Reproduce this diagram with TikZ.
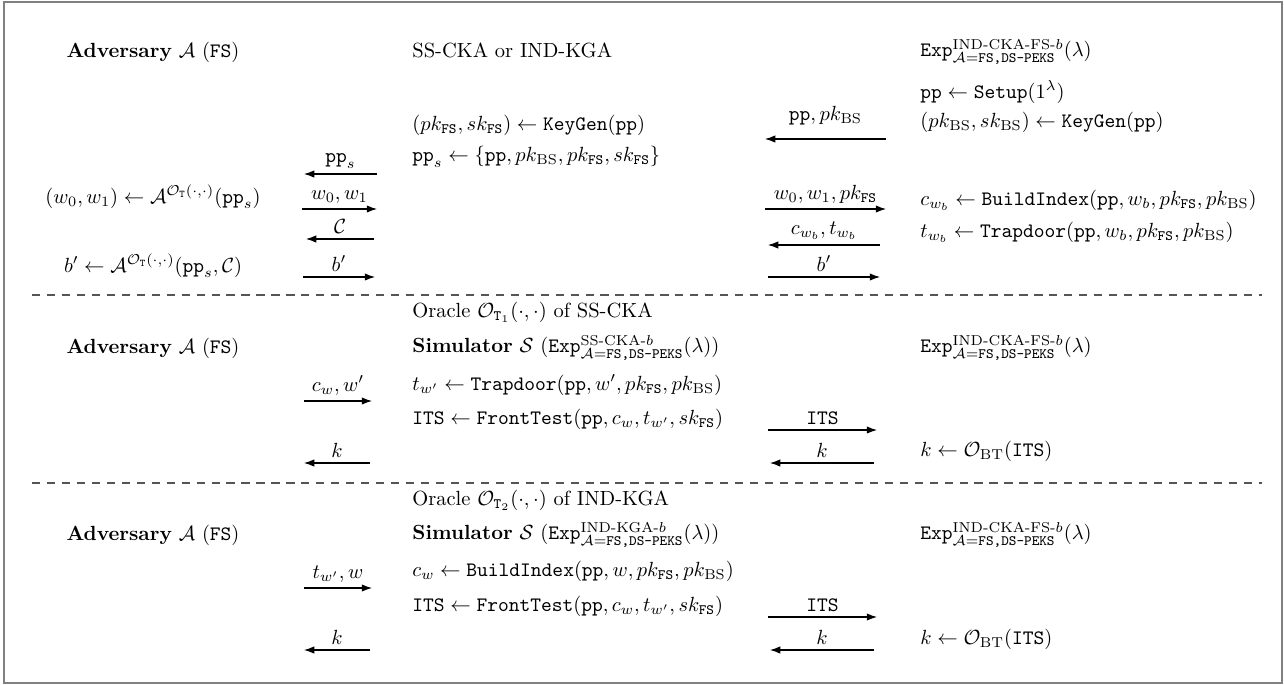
\documentclass[tikz,border=0pt]{standalone}
\usepackage{amsmath}
\usepackage{amssymb}
\usetikzlibrary{%
	arrows.meta,%
	positioning,%
}
\definecolor{cframe}{RGB}{128, 128, 128}
\definecolor{cdash}{RGB}{85, 85, 85}
\newcommand{\algname}[1]{\mathtt{#1}}
\newcommand{\keyname}[2]{#1k_{\mathtt{#2}}}
\newcommand{\srvkey}[1]{#1k_{\mathrm{BS}}}
\newcommand{\expname}[1]{\mathtt{Exp}^{\text{#1-}b}_{\mathcal{A}=\text{\texttt{FS,DS-PEKS}}}(\lambda)}
\newcommand{\advname}{\textbf{Adversary} $\mathcal{A}$ (\texttt{FS})}
\newcommand{\oraname}{\mathcal{O}_{\mathtt{T}}(\cdot,\cdot)}
\tikzset{
	>={Latex[length=5pt,width=3.6pt]},%
	stepnode/.style={%
			anchor=west,%
			inner sep=0pt},%
	partynode/.style={%
			inner sep=0pt},%
	msg/.style={%
			->,%
			line width=0.5pt},%
	msglabel/.style={%
			above,%
			inner sep=2.5pt},%
	sepline/.style={%
			draw=cdash,%
			line width=0.5pt,%
			dash pattern=on 4pt off 3.3pt},%
}

\begin{document}
\begin{tikzpicture}[x=0.01715cm, y=0.01715cm]
	\useasboundingbox (0,0) rectangle (1284,-684);
	\draw[cframe, line width=0.75pt] (4,-2) rectangle (1282,-683);

	% game set-up
	\node[partynode] (adv) at (153,-52) {\advname};
	\node[stepnode] (gm) at (412,-50) {SS-CKA or IND-KGA};
	\node[stepnode] (ex) at (920,-52) {$\expname{IND-CKA-FS}$};
	\node[stepnode] (su) at (920,-92) {$\algname{pp}\leftarrow\algname{Setup}(1^\lambda)$};
	\node[stepnode] (kb) at (920,-122) {$(\srvkey{p},\srvkey{s})\leftarrow\algname{KeyGen}(\algname{pp})$};
	\node[stepnode] (kf) at (412,-125) {$(\keyname{p}{FS},\keyname{s}{FS})\leftarrow\algname{KeyGen}(\algname{pp})$};
	\node[stepnode] (ps) at (412,-157) {$\algname{pp}_s\leftarrow\{\algname{pp},\srvkey{p},\keyname{p}{FS},\keyname{s}{FS}\}$};
	\node[partynode] (ch) at (153,-197) {$(w_0,w_1)\leftarrow\mathcal{A}^{\oraname}(\algname{pp}_s)$};
	\node[partynode] (gu) at (153,-266) {$b'\leftarrow\mathcal{A}^{\oraname}(\algname{pp}_s,\mathcal{C})$};
	\node[stepnode] (bi) at (920,-200) {$c_{w_b}\leftarrow\algname{BuildIndex}(\algname{pp},w_b,\keyname{p}{FS},\srvkey{p})$};
	\node[stepnode] (td) at (920,-232) {$t_{w_b}\leftarrow\algname{Trapdoor}(\algname{pp},w_b,\keyname{p}{FS},\srvkey{p})$};

	\coordinate (m1a) at (377,-174); \coordinate (m1b) at (304,-174);
	\coordinate (m2a) at (302,-209); \coordinate (m2b) at (377,-209);
	\coordinate (m3a) at (374,-239); \coordinate (m3b) at (306,-239);
	\coordinate (m4a) at (303,-277); \coordinate (m4b) at (375,-277);
	\coordinate (n1a) at (886,-139); \coordinate (n1b) at (765,-139);
	\coordinate (n2a) at (765,-209); \coordinate (n2b) at (886,-209);
	\coordinate (n3a) at (880,-245); \coordinate (n3b) at (768,-245);
	\coordinate (n4a) at (768,-277); \coordinate (n4b) at (880,-277);
	\draw[msg] (m1a) -- node[msglabel] {$\algname{pp}_s$} (m1b);
	\draw[msg] (m2a) -- node[msglabel] {$w_0,w_1$} (m2b);
	\draw[msg] (m3a) -- node[msglabel] {$\mathcal{C}$} (m3b);
	\draw[msg] (m4a) -- node[msglabel] {$b'$} (m4b);
	\draw[msg] (n1a) -- node[msglabel, yshift=4pt] {$\algname{pp},\srvkey{p}$} (n1b);
	\draw[msg] (n2a) -- node[msglabel] {$w_0,w_1,\keyname{p}{FS}$} (n2b);
	\draw[msg] (n3a) -- node[msglabel] {$c_{w_b},t_{w_b}$} (n3b);
	\draw[msg] (n4a) -- node[msglabel] {$b'$} (n4b);

	\coordinate (s1a) at (32,-295); \coordinate (s1b) at (1262,-295);
	\draw[sepline] (s1a) -- (s1b);

	% oracle of SS-CKA
	\node[stepnode] (o1) at (412,-312) {Oracle $\mathcal{O}_{\mathtt{T}_1}(\cdot,\cdot)$ of SS-CKA};
	\node[partynode] (adv1) at (153,-348) {\advname};
	\node[stepnode] (sim1) at (412,-348) {\textbf{Simulator} $\mathcal{S}$ ($\expname{SS-CKA}$)};
	\node[stepnode] (ex1) at (920,-348) {$\expname{IND-CKA-FS}$};
	\node[stepnode] (td1) at (412,-385) {$t_{w'}\leftarrow\algname{Trapdoor}(\algname{pp},w',\keyname{p}{FS},\srvkey{p})$};
	\node[stepnode] (ft1) at (412,-419) {$\algname{ITS}\leftarrow\algname{FrontTest}(\algname{pp},c_w,t_{w'},\keyname{s}{FS})$};
	\node[stepnode] (bt1) at (920,-451) {$k\leftarrow\mathcal{O}_{\mathrm{BT}}(\algname{ITS})$};

	\coordinate (p1a) at (304,-401); \coordinate (p1b) at (372,-401);
	\coordinate (p2a) at (768,-430); \coordinate (p2b) at (877,-430);
	\coordinate (p3a) at (874,-463); \coordinate (p3b) at (770,-463);
	\coordinate (p4a) at (370,-463); \coordinate (p4b) at (304,-463);
	\draw[msg] (p1a) -- node[msglabel] {$c_w,w'$} (p1b);
	\draw[msg] (p2a) -- node[msglabel] {$\algname{ITS}$} (p2b);
	\draw[msg] (p3a) -- node[msglabel] {$k$} (p3b);
	\draw[msg] (p4a) -- node[msglabel] {$k$} (p4b);

	\coordinate (s2a) at (32,-483); \coordinate (s2b) at (1262,-483);
	\draw[sepline] (s2a) -- (s2b);

	% oracle of IND-KGA
	\node[stepnode] (o2) at (412,-500) {Oracle $\mathcal{O}_{\mathtt{T}_2}(\cdot,\cdot)$ of IND-KGA};
	\node[partynode] (adv2) at (153,-535) {\advname};
	\node[stepnode] (sim2) at (412,-535) {\textbf{Simulator} $\mathcal{S}$ ($\expname{IND-KGA}$)};
	\node[stepnode] (ex2) at (920,-535) {$\expname{IND-CKA-FS}$};
	\node[stepnode] (bi2) at (412,-571) {$c_w\leftarrow\algname{BuildIndex}(\algname{pp},w,\keyname{p}{FS},\srvkey{p})$};
	\node[stepnode] (ft2) at (412,-606) {$\algname{ITS}\leftarrow\algname{FrontTest}(\algname{pp},c_w,t_{w'},\keyname{s}{FS})$};
	\node[stepnode] (bt2) at (920,-639) {$k\leftarrow\mathcal{O}_{\mathrm{BT}}(\algname{ITS})$};

	\coordinate (q1a) at (304,-588); \coordinate (q1b) at (372,-588);
	\coordinate (q2a) at (768,-617); \coordinate (q2b) at (877,-617);
	\coordinate (q3a) at (874,-650); \coordinate (q3b) at (770,-650);
	\coordinate (q4a) at (370,-650); \coordinate (q4b) at (304,-650);
	\draw[msg] (q1a) -- node[msglabel] {$t_{w'},w$} (q1b);
	\draw[msg] (q2a) -- node[msglabel] {$\algname{ITS}$} (q2b);
	\draw[msg] (q3a) -- node[msglabel] {$k$} (q3b);
	\draw[msg] (q4a) -- node[msglabel] {$k$} (q4b);
\end{tikzpicture}
\end{document}
